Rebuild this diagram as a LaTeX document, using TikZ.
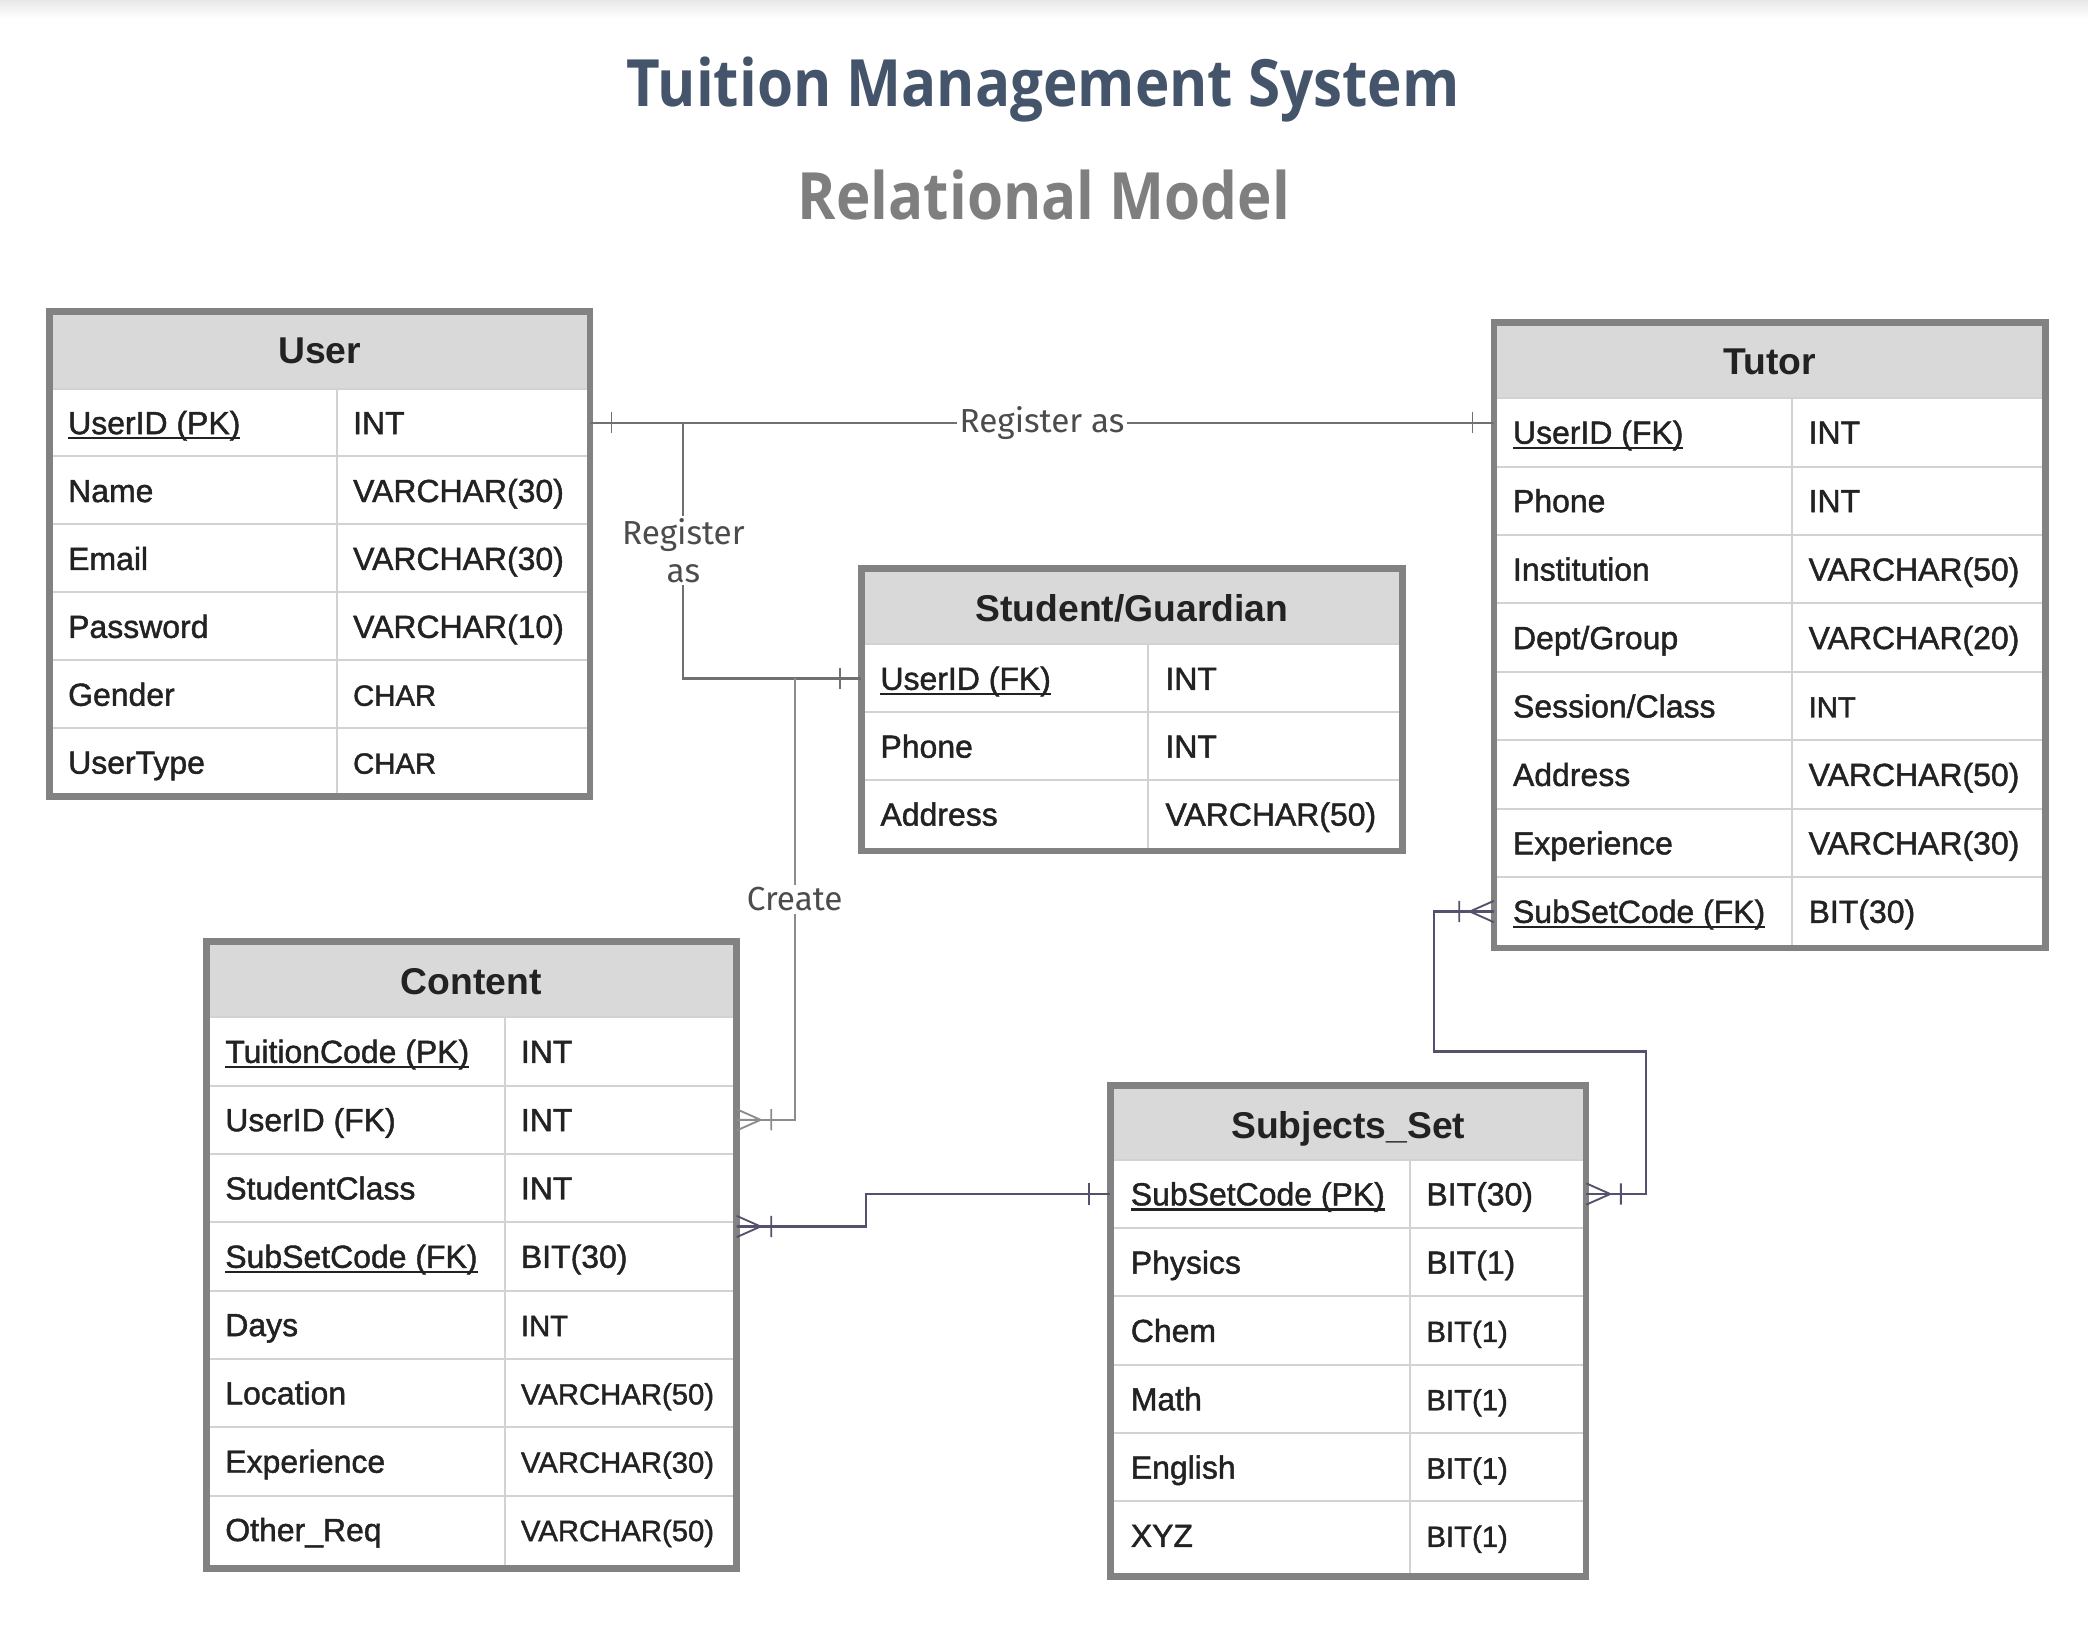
\documentclass[tikz,border=0pt]{standalone}
\usepackage{fontspec}
\setmainfont{Liberation Sans}
\newfontfamily\cellfont{Liberation Sans}[FakeBold=1.4]
\newfontfamily\titlefont{Open Sans}
\newfontfamily\relfont{Fira Sans}
\definecolor{hdrgrey}{HTML}{D9D9D9}
\definecolor{bordergrey}{HTML}{828282}
\definecolor{sepgrey}{HTML}{D2D2D2}
\definecolor{titleblue}{HTML}{44546A}
\definecolor{subgrey}{HTML}{7F7F7F}
\definecolor{relgrey}{HTML}{707070}
\definecolor{lightrel}{HTML}{8C8C8C}
\definecolor{darkrel}{HTML}{55506B}
\definecolor{celltext}{HTML}{222222}
\newcommand\sm{\fontsize{22}{26}\selectfont}
\newcommand\keyname[1]{\setbox0\hbox{#1}\rlap{\rule[-4pt]{\wd0}{1.8pt}}\box0}
\begin{document}
\begin{tikzpicture}[x=1pt, y=-1pt,
  hdr/.style={fill=hdrgrey},
  tbl/.style={draw=bordergrey, line width=5pt},
  sep/.style={draw=sepgrey, line width=1.5pt},
  hdrtext/.style={font=\fontsize{28}{32}\selectfont\bfseries, text=celltext, inner sep=0pt, anchor=base},
  rowbox/.style={minimum height=51pt, inner sep=0pt},
  cell/.style={font=\cellfont\fontsize{24}{28}\selectfont, text=celltext, anchor=base west, inner sep=0pt},
  rel/.style={line width=1.6pt, draw=relgrey},
  rellabel/.style={fill=white, font=\relfont\fontsize{25}{28}\selectfont, text=black!70, inner sep=2pt, align=center},
  pics/one/.style={code={\draw[line width=1.4pt] (0,-8) -- (0,8);}},
  pics/many/.style={code={\draw[line width=1.4pt] (0,-8) -- (18,0) -- (0,8) (0,0) -- (18,0) (26,-8) -- (26,8);}}
]
\useasboundingbox (0,0) rectangle (1568,1230);
\shade[top color=black!9, bottom color=white] (0,0) rectangle (1568,14);

\node[font=\titlefont\bfseries\fontsize{49}{56}\selectfont, text=titleblue, anchor=base] (title) at (783.5,80) {\scalebox{0.894}[1]{Tuition Management System}};
\node[font=\titlefont\bfseries\fontsize{49}{56}\selectfont, text=subgrey, anchor=base] (subtitle) at (784,165) {\scalebox{0.894}[1]{Relational Model}};

\fill[hdr] (37,234) rectangle (443,292);
\node[hdrtext] (user) at (240,273) {User};
\foreach \i/\nm/\ty [evaluate=\i as \yc using 292+51*\i-25.5] in
  {1/{\keyname{UserID (PK)}}/INT, 2/Name/{VARCHAR(30)}, 3/Email/{VARCHAR(30)},
   4/Password/{VARCHAR(10)}, 5/Gender/{\sm CHAR}, 6/UserType/{\sm CHAR}} {
  \node[rowbox, minimum width=406pt] (user-\i) at (240,\yc) {};
  \draw[sep] (user-\i.north west) -- (user-\i.north east);
  \node[cell] (user-\i-n) at (51,\yc+8.5) {\nm};
  \node[cell] (user-\i-t) at (265,\yc+8.5) {\ty};
}
\draw[sep] (253,292) -- (253,598);
\draw[tbl] (37,234) rectangle (443,598);

\fill[hdr] (1122,242) rectangle (1536,299);
\node[hdrtext] (tutor) at (1329,281) {Tutor};
\foreach \i/\nm/\ty [evaluate=\i as \yc using 299+51.4*\i-25.7] in
  {1/{\keyname{UserID (FK)}}/INT, 2/Phone/INT, 3/Institution/{VARCHAR(50)},
   4/{Dept/Group}/{VARCHAR(20)}, 5/{Session/Class}/{\sm INT}, 6/Address/{VARCHAR(50)},
   7/Experience/{VARCHAR(30)}, 8/{\keyname{SubSetCode (FK)}}/{BIT(30)}} {
  \node[rowbox, minimum width=414pt] (tutor-\i) at (1329,\yc) {};
  \draw[sep] (tutor-\i.north west) -- (tutor-\i.north east);
  \node[cell] (tutor-\i-n) at (1136,\yc+8.5) {\nm};
  \node[cell] (tutor-\i-t) at (1358,\yc+8.5) {\ty};
}
\draw[sep] (1346,299) -- (1346,712);
\draw[tbl] (1122,242) rectangle (1536,712);

\fill[hdr] (647,427) rectangle (1053,484);
\node[hdrtext] (stud) at (850,467) {Student/Guardian};
\foreach \i/\nm/\ty [evaluate=\i as \yc using 484+51*\i-25.5] in
  {1/{\keyname{UserID (FK)}}/INT, 2/Phone/INT, 3/Address/{VARCHAR(50)}} {
  \node[rowbox, minimum width=406pt] (stud-\i) at (850,\yc) {};
  \draw[sep] (stud-\i.north west) -- (stud-\i.north east);
  \node[cell] (stud-\i-n) at (661,\yc+8.5) {\nm};
  \node[cell] (stud-\i-t) at (875,\yc+8.5) {\ty};
}
\draw[sep] (862,484) -- (862,639);
\draw[tbl] (647,427) rectangle (1053,639);

\fill[hdr] (155,707) rectangle (553,764);
\node[hdrtext] (content) at (354,747) {Content};
\foreach \i/\nm/\ty [evaluate=\i as \yc using 764+51.3*\i-25.65] in
  {1/{\keyname{TuitionCode (PK)}}/INT, 2/{UserID (FK)}/INT, 3/StudentClass/INT,
   4/{\keyname{SubSetCode (FK)}}/{BIT(30)}, 5/Days/{\sm INT}, 6/Location/{\sm VARCHAR(50)},
   7/Experience/{\sm VARCHAR(30)}, 8/Other\_Req/{\sm VARCHAR(50)}} {
  \node[rowbox, minimum width=398pt] (content-\i) at (354,\yc) {};
  \draw[sep] (content-\i.north west) -- (content-\i.north east);
  \node[cell] (content-\i-n) at (169,\yc+8.5) {\nm};
  \node[cell] (content-\i-t) at (391,\yc+8.5) {\ty};
}
\draw[sep] (379,764) -- (379,1178);
\draw[tbl] (155,707) rectangle (553,1178);

\fill[hdr] (834,815) rectangle (1191,871);
\node[hdrtext] (subj) at (1012.5,855) {Subjects\_Set};
\foreach \i/\nm/\ty [evaluate=\i as \yc using 871+51.3*\i-25.65] in
  {1/{\keyname{SubSetCode (PK)}}/{BIT(30)}, 2/Physics/{BIT(1)}, 3/Chem/{\sm BIT(1)},
   4/Math/{\sm BIT(1)}, 5/English/{\sm BIT(1)}, 6/XYZ/{\sm BIT(1)}} {
  \node[rowbox, minimum width=357pt] (subj-\i) at (1012.5,\yc) {};
  \draw[sep] (subj-\i.north west) -- (subj-\i.north east);
  \node[cell] (subj-\i-n) at (849,\yc+8.5) {\nm};
  \node[cell] (subj-\i-t) at (1071,\yc+8.5) {\ty};
}
\draw[sep] (1059,871) -- (1059,1184);
\draw[tbl] (834,815) rectangle (1191,1184);

\coordinate (regend) at (user-1.east -| tutor-1.west);
\coordinate (regsplit) at ([xshift=70pt]user-1.east);
\coordinate (createtop) at ([xshift=-50pt]stud-1.west);
\coordinate (contentsub) at ([yshift=22.5pt]content-4.east);
\draw[rel] (user-1.east) -- (regend) node[rellabel, pos=0.5] (regtutor) {Register as};
\draw[rel] (regsplit) |- (stud-1.west) node[rellabel, pos=0.25] (regstud) {Register\\as};
\pic[relgrey] at ([xshift=16pt]user-1.east) {one};
\pic[relgrey] at ([xshift=-16pt]regend) {one};
\pic[relgrey] at ([xshift=-16pt]stud-1.west) {one};

\draw[rel, draw=lightrel] (createtop) |- (content-2.east) node[rellabel, pos=0.25] (create) {Create};
\pic[lightrel] at (content-2.east) {many};

\draw[rel, draw=darkrel] (contentsub) -- ++(97,0) |- (subj-1.west);
\pic[darkrel] at (contentsub) {many};
\pic[darkrel] at ([xshift=-16pt]subj-1.west) {one};

\draw[rel, draw=darkrel] (subj-1.east) -- ++(45,0) -- ++(0,-107) -| ([xshift=-45pt]tutor-8.west) -- (tutor-8.west);
\pic[darkrel] at (subj-1.east) {many};
\pic[darkrel, rotate=180] at (tutor-8.west) {many};
\end{tikzpicture}
\end{document}
